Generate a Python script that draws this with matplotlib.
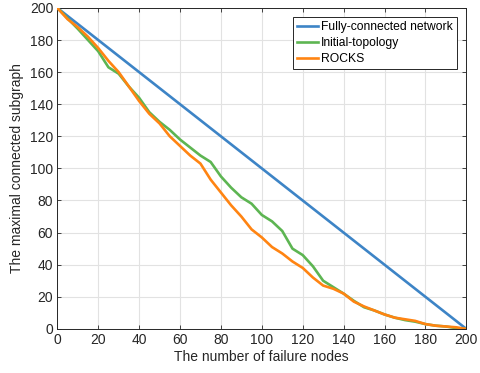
import numpy as np
import matplotlib
matplotlib.use("Agg")
import matplotlib.pyplot as plt

plt.rcParams['font.family'] = ['Liberation Sans', 'DejaVu Sans']
plt.rcParams['font.size'] = 10

# Number of removed (failed) nodes
failure_nodes = list(range(0, 201, 5))

# Size of the largest connected subgraph after failures
fully_connected = [200 - n for n in failure_nodes]
initial_topology = [200, 193.5, 187, 180, 173, 163, 159, 151, 144, 135,
                    129, 124, 118, 113, 108, 104, 95, 88, 82, 78,
                    71, 67, 61, 50, 46, 39, 30, 26, 22, 17.5,
                    13.5, 11.5, 9, 7, 5.5, 4.5, 3, 2, 1.5, 0.5, 0]
rocks = [200, 193, 188, 182, 175, 167, 160, 151, 142, 134,
         128, 120, 114, 108, 103, 93, 85, 77, 70, 62,
         57, 51, 47, 42, 38, 32, 27, 25, 22, 17,
         14, 11.5, 9, 7, 6, 5, 3, 2, 1.5, 1, 0]

x_ticks = list(range(0, 201, 20))
y_ticks = list(range(0, 201, 20))

fig = plt.figure(figsize=(4.81, 3.73), dpi=100)
ax = fig.add_axes([57.3 / 481, 1 - 328.9 / 373, (466.3 - 57.3) / 481, (328.9 - 7.9) / 373])

ax.plot(failure_nodes, fully_connected, color='#3d84c6', lw=1.9, label='Fully-connected network', zorder=3)
ax.plot(failure_nodes, initial_topology, color='#5db552', lw=1.9, label='Initial-topology', zorder=4)
ax.plot(failure_nodes, rocks, color='#ff8412', lw=1.9, label='ROCKS', zorder=5)

ax.set_xlim(0, 200)
ax.set_ylim(0, 200)
ax.set_xticks(x_ticks)
ax.set_yticks(y_ticks)
ax.grid(True, color='#e2e2e2', lw=0.8)
ax.set_axisbelow(True)
ax.tick_params(direction='in', length=3, width=0.6, top=True, right=True,
               colors='#262626', labelcolor='#262626', pad=3)
for s in ax.spines.values():
    s.set_color('#262626')
    s.set_linewidth(0.7)

ax.set_xlabel('The number of failure nodes', color='#262626', labelpad=2)
ax.set_ylabel('The maximal connected subgraph', color='#262626', labelpad=4)

leg = ax.legend(loc='upper right', bbox_to_anchor=(0.9765, 0.972), borderaxespad=0,
                fontsize=8.7, handlelength=1.7, handletextpad=0.25, labelspacing=0.33,
                borderpad=0.33, fancybox=False, framealpha=1, edgecolor='#262626')
leg.get_frame().set_linewidth(0.7)

fig.savefig('out.png', dpi=100)
